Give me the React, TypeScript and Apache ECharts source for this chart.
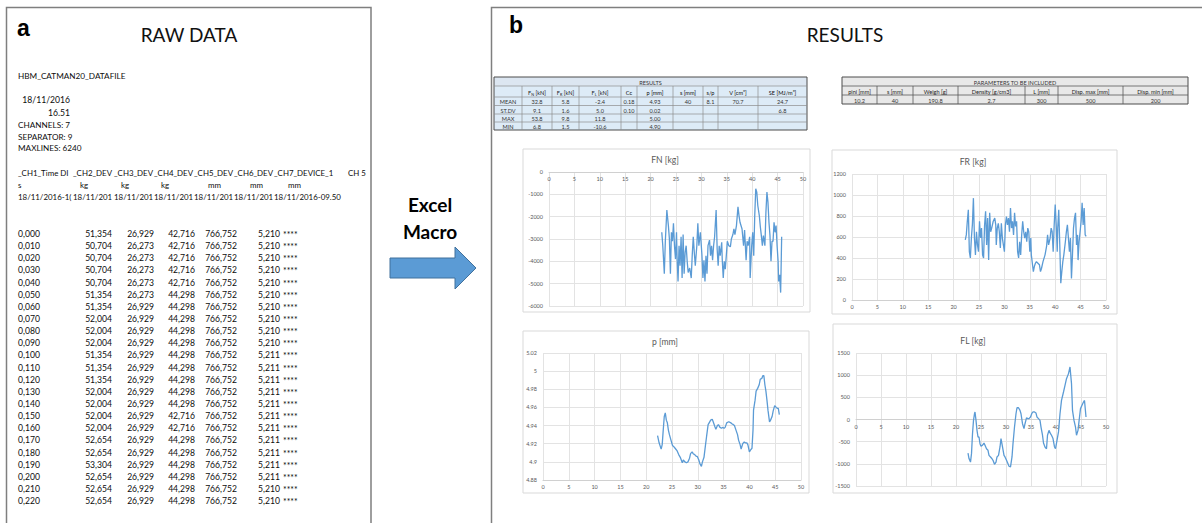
import React, { useEffect, useRef } from "react";
import * as echarts from "echarts";

const FONT = "Lato, 'Open Sans', sans-serif";

// ---------- RAW DATA panel values ----------
const rawTime = [0.0, 0.01, 0.02, 0.03, 0.04, 0.05, 0.06, 0.07, 0.08, 0.09, 0.1, 0.11, 0.12, 0.13, 0.14, 0.15, 0.16, 0.17, 0.18, 0.19, 0.2, 0.21, 0.22];
const rawCh2 = [51.354, 50.704, 50.704, 50.704, 50.704, 51.354, 51.354, 52.004, 52.004, 52.004, 51.354, 51.354, 51.354, 52.004, 52.004, 52.004, 52.004, 52.654, 52.654, 53.304, 52.654, 52.654, 52.654];
const rawCh3 = [26.929, 26.273, 26.273, 26.273, 26.273, 26.273, 26.929, 26.929, 26.929, 26.929, 26.929, 26.929, 26.929, 26.929, 26.929, 26.929, 26.929, 26.929, 26.929, 26.929, 26.929, 26.929, 26.929];
const rawCh4 = [42.716, 42.716, 42.716, 42.716, 42.716, 44.298, 44.298, 44.298, 44.298, 44.298, 44.298, 44.298, 44.298, 44.298, 44.298, 42.716, 42.716, 44.298, 44.298, 44.298, 44.298, 44.298, 44.298];
const rawCh5 = [766.752, 766.752, 766.752, 766.752, 766.752, 766.752, 766.752, 766.752, 766.752, 766.752, 766.752, 766.752, 766.752, 766.752, 766.752, 766.752, 766.752, 766.752, 766.752, 766.752, 766.752, 766.752, 766.752];
const rawCh6 = [5.21, 5.21, 5.21, 5.21, 5.21, 5.21, 5.21, 5.21, 5.21, 5.21, 5.211, 5.211, 5.211, 5.211, 5.211, 5.211, 5.211, 5.211, 5.211, 5.211, 5.211, 5.21, 5.21];
const rawHeaderNames = ["_CH1_Time DI", "_CH2_DEV", "_CH3_DEV", "_CH4_DEV", "_CH5_DEV", "_CH6_DEV", "_CH7_DEVICE_1", "CH 5"];
const rawUnits = ["s", "kg", "kg", "kg", "mm", "mm", "mm"];
const rawDates = ["18/11/2016-1(", "18/11/201", "18/11/201", "18/11/201", "18/11/201", "18/11/201", "18/11/2016-09.50"];
const rawMeta = ["HBM_CATMAN20_DATAFILE", "18/11/2016", "16.51", "CHANNELS: 7", "SEPARATOR: 9", "MAXLINES: 6240"];

// ---------- RESULTS table ----------
const resultsHeaders = ["", "{n|F}{s|N}{n| [kN]}", "{n|F}{s|R}{n| [kN]}", "{n|F}{s|L}{n| [kN]}", "Cc", "p [mm]", "s [mm]", "s/p", "V [cm³]", "SE [MJ/m³]"];
const resultsRowLabels = ["MEAN", "ST.DV", "MAX", "MIN"];
const resultsMean = ["32.8", "5.8", "-2.4", "0.18", "4.93", "40", "8.1", "70.7", "24.7"];
const resultsStd = ["9.1", "1.6", "5.0", "0.10", "0.02", "", "", "", "6.8"];
const resultsMax = ["53.8", "9.8", "11.8", "", "5.00", "", "", "", ""];
const resultsMin = ["6.8", "1.5", "-10.6", "", "4.90", "", "", "", ""];

// ---------- PARAMETERS table ----------
const paramHeaders = ["pini [mm]", "s [mm]", "Weigh [g]", "Density [g/cm3]", "L [mm]", "Disp. max [mm]", "Disp. min [mm]"];
const paramValues = ["10.2", "40", "190.8", "2.7", "300", "500", "200"];

// ---------- chart series (x = s, y = value) ----------
const fnPoints = [
  [22.2, -2700], [22.4, -3300], [22.7, -4550], [22.9, -3100], [23.2, -1700], [23.5, -2400], [23.7, -3000], [23.9, -4550], [24.1, -2700], [24.3, -3100],
  [24.5, -2300], [24.7, -3300], [24.9, -3900], [25.1, -2700], [25.2, -3750], [25.4, -4900], [25.6, -3300], [25.8, -4200], [26.0, -2900], [26.2, -4750],
  [26.4, -2800], [26.6, -4550], [26.8, -3600], [27.0, -3300], [27.2, -4000], [27.4, -4500], [27.7, -4300], [28.0, -4750], [28.2, -3700], [28.4, -2900],
  [28.6, -3600], [28.8, -4200], [29.1, -3300], [29.3, -2300], [29.5, -3300], [29.8, -2700], [30.1, -3700], [30.3, -4750], [30.5, -3950], [30.7, -4900],
  [30.9, -3750], [31.1, -4550], [31.3, -3300], [31.6, -3050], [31.8, -3750], [32.0, -3300], [32.2, -3950], [32.4, -3300], [32.6, -2900], [32.9, -1700],
  [33.1, -3450], [33.3, -4200], [33.5, -3300], [33.7, -3750], [34.0, -3150], [34.1, -3900], [34.3, -4750], [34.5, -4000], [34.7, -4350], [34.9, -3750],
  [35.1, -3100], [35.4, -3300], [35.7, -3350], [35.9, -3000], [36.2, -2800], [36.4, -2550], [36.6, -2800], [36.9, -2400], [37.2, -1560], [37.4, -1950],
  [37.6, -2250], [38.0, -2550], [38.3, -3300], [38.5, -2600], [38.8, -3950], [39.0, -3100], [39.2, -3300], [39.5, -2900], [39.6, -4750], [39.9, -3300],
  [40.1, -2700], [40.3, -3750], [40.5, -1950], [40.7, -750], [40.9, -900], [41.1, -1500], [41.4, -1950], [41.6, -2450], [41.8, -2850], [42.0, -3300],
  [42.2, -2850], [42.5, -3300], [42.7, -1800], [42.9, -900], [43.1, -1350], [43.3, -2250], [43.5, -2850], [43.7, -4000], [43.9, -3100], [44.1, -3100],
  [44.3, -2250], [44.5, -2700], [44.7, -2400], [44.9, -3300], [45.1, -4000], [45.2, -4900], [45.4, -4600], [45.6, -5400], [45.8, -2900],
];
const frPoints = [
  [22.3, 573], [22.5, 620], [22.7, 750], [22.9, 860], [23.1, 460], [23.3, 400], [23.5, 590], [23.7, 720], [23.9, 970], [24.1, 590],
  [24.3, 430], [24.5, 650], [24.7, 525], [24.9, 460], [25.1, 750], [25.3, 590], [25.5, 685], [25.7, 430], [25.9, 400], [26.1, 715],
  [26.3, 845], [26.5, 525], [26.7, 780], [26.9, 380], [27.1, 830], [27.3, 650], [27.5, 685], [27.8, 750], [28.1, 780], [28.3, 715],
  [28.4, 525], [28.6, 685], [28.8, 730], [29.0, 650], [29.2, 495], [29.4, 730], [29.6, 590], [29.8, 525], [30.0, 460], [30.2, 715],
  [30.4, 795], [30.6, 715], [30.8, 780], [31.0, 650], [31.2, 875], [31.4, 685], [31.6, 750], [31.8, 620], [32.0, 830], [32.2, 700],
  [32.4, 750], [32.6, 460], [32.8, 400], [33.0, 555], [33.2, 430], [33.4, 620], [33.6, 750], [33.8, 650], [34.0, 590], [34.2, 650],
  [34.4, 555], [34.6, 685], [34.8, 650], [35.0, 460], [35.2, 590], [35.3, 430], [35.5, 350], [35.7, 270], [35.9, 320], [36.1, 350],
  [36.3, 365], [36.6, 350], [36.9, 335], [37.1, 270], [37.3, 300], [37.6, 365], [38.0, 430], [38.3, 510], [38.5, 620], [38.7, 525],
  [39.0, 590], [39.2, 685], [39.4, 650], [39.6, 460], [39.8, 715], [40.0, 910], [40.2, 715], [40.4, 460], [40.5, 685], [40.7, 860],
  [40.9, 525], [41.1, 160], [41.3, 270], [41.5, 365], [41.7, 430], [42.0, 555], [42.2, 650], [42.4, 715], [42.6, 590], [42.8, 460],
  [43.0, 590], [43.2, 205], [43.4, 430], [43.6, 685], [43.8, 780], [44.0, 830], [44.2, 525], [44.4, 620], [44.5, 380], [44.7, 555],
  [44.9, 650], [45.1, 750], [45.3, 925], [45.5, 715], [45.7, 875], [45.9, 620], [46.1, 605],
];
const pPoints = [
  [22.2, 4.929], [22.5, 4.921], [22.9, 4.914], [23.1, 4.919], [23.3, 4.935], [23.5, 4.95], [23.7, 4.954], [23.9, 4.946], [24.1, 4.943], [24.3, 4.935],
  [24.5, 4.93], [24.8, 4.924], [25.1, 4.918], [25.3, 4.917], [25.6, 4.915], [26.0, 4.912], [26.3, 4.908], [26.6, 4.905], [26.8, 4.902], [27.0, 4.899],
  [27.2, 4.902], [27.5, 4.9], [27.8, 4.899], [28.1, 4.9], [28.4, 4.904], [28.6, 4.909], [28.9, 4.911], [29.1, 4.909], [29.4, 4.908], [29.7, 4.906],
  [29.9, 4.906], [30.2, 4.902], [30.4, 4.898], [30.7, 4.895], [30.9, 4.9], [31.2, 4.905], [31.5, 4.919], [31.7, 4.928], [32.0, 4.941], [32.2, 4.943],
  [32.5, 4.946], [32.8, 4.947], [33.0, 4.944], [33.3, 4.939], [33.5, 4.936], [33.8, 4.94], [34.0, 4.941], [34.3, 4.938], [34.6, 4.937], [34.8, 4.938],
  [35.1, 4.937], [35.3, 4.938], [35.6, 4.943], [35.9, 4.944], [36.1, 4.944], [36.4, 4.943], [36.6, 4.942], [36.9, 4.941], [37.1, 4.94], [37.4, 4.935],
  [37.7, 4.93], [37.9, 4.924], [38.2, 4.919], [38.4, 4.914], [38.7, 4.92], [39.0, 4.922], [39.2, 4.921], [39.5, 4.921], [39.7, 4.919], [40.0, 4.911],
  [40.2, 4.913], [40.5, 4.915], [40.7, 4.935], [40.8, 4.957], [41.1, 4.968], [41.3, 4.978], [41.6, 4.981], [41.9, 4.985], [42.1, 4.991], [42.4, 4.992],
  [42.6, 4.995], [42.8, 4.995], [43.0, 4.985], [43.2, 4.978], [43.4, 4.968], [43.6, 4.957], [43.9, 4.944], [44.1, 4.946], [44.4, 4.95], [44.6, 4.956],
  [44.9, 4.962], [45.2, 4.96], [45.4, 4.959], [45.6, 4.959], [45.8, 4.952],
];
const flPoints = [
  [22.4, -756], [22.6, -880], [22.9, -960], [23.1, -770], [23.3, -320], [23.5, -20], [23.7, 130], [23.8, 170], [24.0, -20], [24.2, -245],
  [24.4, -395], [24.6, -395], [24.8, -545], [25.0, -605], [25.3, -580], [25.6, -530], [25.8, -580], [26.1, -660], [26.4, -695], [26.6, -810],
  [26.9, -845], [27.2, -885], [27.4, -920], [27.7, -1010], [28.0, -960], [28.2, -845], [28.5, -810], [28.8, -620], [29.0, -430], [29.3, -620],
  [29.6, -810], [29.8, -845], [30.1, -920], [30.4, -1000], [30.6, -1055], [30.9, -1070], [31.2, -845], [31.4, -545], [31.7, -170], [32.0, 130],
  [32.2, 265], [32.5, 265], [32.8, 205], [33.0, 130], [33.3, -95], [33.6, -205], [33.8, -95], [34.1, 35], [34.4, 20], [34.6, 20],
  [34.9, 55], [35.2, 145], [35.4, 170], [35.7, 170], [36.0, 145], [36.2, 55], [36.5, 20], [36.8, -20], [37.0, -170], [37.3, -355],
  [37.5, -530], [37.8, -620], [38.1, -660], [38.3, -355], [38.6, -245], [38.9, -320], [39.1, -355], [39.4, -430], [39.7, -620], [39.9, -660],
  [40.2, -470], [40.5, -280], [40.8, 130], [41.1, 430], [41.5, 620], [41.8, 770], [42.1, 920], [42.5, 1035], [42.8, 1185], [43.1, 810],
  [43.3, 205], [43.6, -20], [43.9, -170], [44.1, -355], [44.4, -245], [44.7, 55], [44.9, 245], [45.2, 320], [45.5, 395], [45.7, 430], [46.0, 55],
];

const chartTitles = ["FN [kg]", "FR [kg]", "p [mm]", "FL [kg]"];
const chartSeries = [fnPoints, frPoints, pPoints, flPoints];
const yMins = [-6000, 0, 4.88, -1500];
const yMaxs = [0, 1200, 5.02, 1500];
const yIntervals = [1000, 200, 0.02, 500];

function fmtComma(v: number): string {
  return v.toFixed(3).replace(".", ",");
}

function txt(text: string, x: number, y: number, size: number, o: any = {}) {
  const align = o.align || "left";
  return {
    type: "text",
    x,
    y,
    silent: true,
    z: 10,
    style: {
      text,
      fill: o.color || "#0d0d0d",
      fontSize: size,
      fontFamily: o.family || FONT,
      fontWeight: o.weight || "normal",
      textAlign: align,
      align,
      textVerticalAlign: "middle",
      verticalAlign: "middle",
      rich: o.rich,
    },
  };
}

function rect(x: number, y: number, w: number, h: number, fill: string, stroke: string, lw: number) {
  return { type: "rect", silent: true, z: 5, shape: { x, y, width: w, height: h }, style: { fill, stroke, lineWidth: lw } };
}
function line(x1: number, y1: number, x2: number, y2: number, stroke: string, lw: number) {
  return { type: "line", silent: true, z: 6, shape: { x1, y1, x2, y2 }, style: { stroke, lineWidth: lw } };
}

const tableRich = {
  n: { fontSize: 5.6, fontFamily: FONT, fill: "#1a1a1a", lineHeight: 8 },
  s: { fontSize: 3.8, fontFamily: FONT, fill: "#1a1a1a", verticalAlign: "bottom", lineHeight: 8 },
};

function buildGraphics(): any[] {
  const g: any[] = [];
  // panel borders
  g.push({ type: "polyline", silent: true, z: 4, shape: { points: [[6.5, 530], [6.5, 7.5], [371, 7.5], [371, 530]] }, style: { stroke: "#7f7f7f", lineWidth: 1.5, fill: "none" } });
  g.push({ type: "polyline", silent: true, z: 4, shape: { points: [[491.5, 530], [491.5, 7.5], [1210, 7.5]] }, style: { stroke: "#7f7f7f", lineWidth: 1.5, fill: "none" } });
  // panel labels
  g.push(txt("a", 17, 28, 23, { weight: "bold", family: "'Liberation Sans', Arial, sans-serif", color: "#000" }));
  g.push(txt("RAW DATA", 189, 34, 19, { align: "center", color: "#111" }));
  g.push(txt("b", 509, 25, 23, { weight: "bold", family: "'Liberation Sans', Arial, sans-serif", color: "#000" }));
  g.push(txt("RESULTS", 845, 34, 19, { align: "center", color: "#111" }));

  // raw data header text
  const rs = 8.6;
  const hs = 7.9;
  g.push(txt(rawMeta[0], 18, 76, 8.2));
  g.push(txt(rawMeta[1], 70, 100, rs, { align: "right" }));
  g.push(txt(rawMeta[2], 70, 113, rs, { align: "right" }));
  g.push(txt(rawMeta[3], 18, 125, 8.2));
  g.push(txt(rawMeta[4], 18, 137, 8.2));
  g.push(txt(rawMeta[5], 18, 148, 8.2));
  const hx = [18, 73, 114, 154, 194, 234, 274, 348];
  rawHeaderNames.forEach((t, i) => g.push(txt(t, hx[i], 173, hs)));
  const ux = [18, 80, 121, 161, 208, 250, 288];
  rawUnits.forEach((t, i) => g.push(txt(t, ux[i], 185, hs)));
  const dx = [18, 73, 114, 154, 194, 234, 274];
  rawDates.forEach((t, i) => g.push(txt(t, dx[i], 197, hs)));
  // data rows
  const colsR = [112, 154, 195, 237, 280];
  rawTime.forEach((t, i) => {
    const y = 234 + i * 12.14;
    g.push(txt(fmtComma(t), 18, y, rs));
    [rawCh2[i], rawCh3[i], rawCh4[i], rawCh5[i], rawCh6[i]].forEach((v, k) => g.push(txt(fmtComma(v), colsR[k], y, rs, { align: "right" })));
    g.push(txt("****", 283, y + 1, rs));
  });

  // arrow + Excel Macro
  g.push(txt("Excel", 430, 204, 19, { align: "center", weight: "bold", color: "#000" }));
  g.push(txt("Macro", 430, 231, 19, { align: "center", weight: "bold", color: "#000" }));
  g.push({
    type: "polygon",
    silent: true,
    z: 5,
    shape: { points: [[390, 258], [455, 258], [455, 247], [476, 268], [455, 289], [455, 278], [390, 278]] },
    style: { fill: "#5b9bd5", stroke: "#41719c", lineWidth: 1 },
  });

  // RESULTS table
  const rc = [494, 522, 552, 579, 621, 637, 673, 703, 718, 758, 807];
  const rr = [77, 86, 97, 105.5, 114, 122, 130];
  const rW = rc[rc.length - 1] - rc[0];
  g.push(rect(rc[0], rr[0], rW, rr[1] - rr[0], "#dce6f1", "none", 0));
  g.push(rect(rc[0], rr[1], rW, rr[6] - rr[1], "#ddebf7", "none", 0));
  for (let i = 1; i < rr.length - 1; i++) g.push(line(rc[0], rr[i], rc[rc.length - 1], rr[i], "#8c8c8c", 0.7));
  for (let j = 1; j < rc.length - 1; j++) g.push(line(rc[j], rr[1], rc[j], rr[6], "#8c8c8c", 0.7));
  g.push(rect(rc[0], rr[0], rW, rr[6] - rr[0], "none", "#4d4d4d", 1));
  g.push(txt("RESULTS", (rc[0] + rc[rc.length - 1]) / 2, (rr[0] + rr[1]) / 2 + 0.5, 5.6, { align: "center", color: "#333" }));
  resultsHeaders.forEach((h, j) => {
    if (!h) return;
    g.push(txt(h, (rc[j] + rc[j + 1]) / 2, (rr[1] + rr[2]) / 2 + 0.5, 5.6, { align: "center", rich: tableRich }));
  });
  const resRows = [resultsMean, resultsStd, resultsMax, resultsMin];
  resRows.forEach((row, i) => {
    const y = (rr[i + 2] + rr[i + 3]) / 2 + 0.5;
    g.push(txt(resultsRowLabels[i], (rc[0] + rc[1]) / 2, y, 5.6, { align: "center", color: "#333" }));
    row.forEach((v, j) => {
      if (!v) return;
      g.push(txt(v, (rc[j + 1] + rc[j + 2]) / 2, y, 5.6, { align: "center", color: "#333" }));
    });
  });

  // PARAMETERS table
  const pc = [842, 877, 913, 958, 1025, 1058, 1123, 1188];
  const pr = [77, 86, 95, 104];
  const pW = pc[pc.length - 1] - pc[0];
  g.push(rect(pc[0], pr[0], pW, pr[3] - pr[0], "#e8e8e8", "none", 0));
  g.push(line(pc[0], pr[1], pc[pc.length - 1], pr[1], "#595959", 0.8));
  g.push(line(pc[0], pr[2], pc[pc.length - 1], pr[2], "#595959", 0.8));
  for (let j = 1; j < pc.length - 1; j++) g.push(line(pc[j], pr[1], pc[j], pr[3], "#595959", 0.8));
  g.push(rect(pc[0], pr[0], pW, pr[3] - pr[0], "none", "#4d4d4d", 1));
  g.push(txt("PARAMETERS TO BE INCLUDED", (pc[0] + pc[pc.length - 1]) / 2, (pr[0] + pr[1]) / 2 + 0.5, 5.6, { align: "center", color: "#333" }));
  paramHeaders.forEach((h, j) => g.push(txt(h, (pc[j] + pc[j + 1]) / 2, (pr[1] + pr[2]) / 2 + 0.5, 5.6, { align: "center", color: "#1a1a1a" })));
  paramValues.forEach((v, j) => g.push(txt(v, (pc[j] + pc[j + 1]) / 2, (pr[2] + pr[3]) / 2 + 0.5, 5.6, { align: "center", color: "#333" })));

  // chart boxes and titles
  const boxes = [
    [523, 149, 287, 163],
    [832, 150, 285, 164],
    [523, 331, 286, 162],
    [833, 324, 284, 169],
  ];
  const titlePos = [
    [665, 160],
    [973, 162],
    [665, 342],
    [973, 341],
  ];
  boxes.forEach((b, i) => {
    g.push({ type: "rect", silent: true, z: -1, shape: { x: b[0], y: b[1], width: b[2], height: b[3] }, style: { fill: "none", stroke: "#d9d9d9", lineWidth: 1 } });
    g.push(txt(chartTitles[i], titlePos[i][0], titlePos[i][1], 8.6, { align: "center", color: "#595959" }));
  });
  return g;
}

const grids = [
  { left: 549, top: 172, width: 254, height: 134 },
  { left: 852, top: 174, width: 254, height: 126 },
  { left: 543, top: 353, width: 258, height: 127 },
  { left: 856, top: 353, width: 250, height: 133 },
];
// where the horizontal axis sits in each chart: at y = 0 of the value axis
const xAxisPlacement = [
  { position: "top", offset: 0, inside: true },
  { position: "bottom", offset: 0, inside: false },
  { position: "bottom", offset: 0, inside: false },
  { position: "bottom", offset: -66.5, inside: false },
];

export default function App() {
  const ref = useRef<HTMLDivElement>(null);
  useEffect(() => {
    if (!ref.current) return;
    const chart = echarts.init(ref.current, undefined, { renderer: "svg" });
    const gridCol = "#e3e3e3";
    const option: any = {
      animation: false,
      backgroundColor: "#ffffff",
      grid: grids.map((g) => ({ ...g, containLabel: false })),
      xAxis: grids.map((_, i) => ({
        type: "value",
        gridIndex: i,
        min: 0,
        max: 50,
        interval: 5,
        position: xAxisPlacement[i].position,
        offset: xAxisPlacement[i].offset,
        axisLine: { show: true, onZero: false, lineStyle: { color: "#d0d0d0", width: 1 } },
        axisTick: { show: false },
        axisLabel: { fontSize: 5.5, color: "#595959", margin: 4, fontFamily: FONT, inside: xAxisPlacement[i].inside },
        splitLine: { show: true, lineStyle: { color: gridCol, width: 1 } },
      })),
      yAxis: grids.map((_, i) => ({
        type: "value",
        gridIndex: i,
        min: yMins[i],
        max: yMaxs[i],
        interval: yIntervals[i],
        axisLine: { show: false, onZero: false },
        axisTick: { show: false },
        axisLabel: {
          fontSize: 5.5,
          color: "#595959",
          margin: 6,
          fontFamily: FONT,
          formatter: (v: number) => String(+v.toFixed(2)),
        },
        splitLine: { show: true, lineStyle: { color: gridCol, width: 1 } },
      })),
      series: chartSeries.map((pts, i) => ({
        type: "line",
        xAxisIndex: i,
        yAxisIndex: i,
        data: pts,
        showSymbol: false,
        symbol: "none",
        lineStyle: { color: "#5b9bd5", width: 1.3 },
        silent: true,
      })),
      graphic: buildGraphics(),
    };
    chart.setOption(option);
    return () => chart.dispose();
  }, []);
  return <div ref={ref} style={{ position: "absolute", left: 0, top: 0, width: 1202, height: 523 }} />;
}
